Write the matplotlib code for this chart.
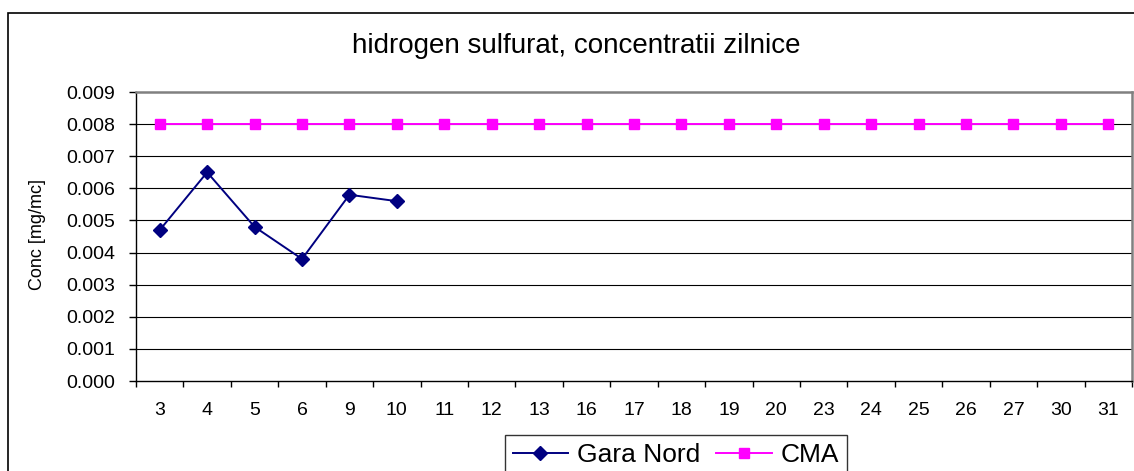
import matplotlib
matplotlib.use("Agg")
import matplotlib.pyplot as plt
from matplotlib.patches import Rectangle
from matplotlib.ticker import FixedLocator, NullFormatter

days = ["3", "4", "5", "6", "9", "10", "11", "12", "13", "16", "17",
        "18", "19", "20", "23", "24", "25", "26", "27", "30", "31"]
gara_nord = [0.0047, 0.0065, 0.0048, 0.0038, 0.0058, 0.0056]
cma = [0.008] * len(days)
y_ticks = [0.000, 0.001, 0.002, 0.003, 0.004, 0.005, 0.006, 0.007, 0.008, 0.009]

W, H = 1134, 471
plt.rcParams['font.family'] = ['Liberation Sans', 'DejaVu Sans']
fig = plt.figure(figsize=(W / 100, H / 100), dpi=100)
fig.patch.set_facecolor('white')

# outer chart frame
fig.patches.append(Rectangle((8 / W, -0.1), 1.2, 1 - 13 / H + 0.1,
                             transform=fig.transFigure, fill=False,
                             edgecolor='black', linewidth=1.2))

ax = fig.add_axes([136 / W, 1 - 381 / H, (1132 - 136) / W, (381 - 92) / H])
x = list(range(len(days)))

for yv in y_ticks[1:-1]:
    ax.axhline(yv, color='black', linewidth=0.8, zorder=1)

ax.plot(x, cma, color='#FF00FF', linewidth=1.4, marker='s', markersize=7.6,
        markerfacecolor='#FF00FF', markeredgecolor='#FF00FF', label='CMA', zorder=3)
ax.plot(x[:len(gara_nord)], gara_nord, color='#000080', linewidth=1.4, marker='D',
        markersize=7.2, markerfacecolor='#000080', markeredgecolor='#000080',
        label='Gara Nord', zorder=4)

ax.set_xlim(-0.5, len(days) - 0.5)
ax.set_ylim(0, 0.009)
ax.set_yticks(y_ticks)
ax.set_yticklabels([f"{v:.3f}" for v in y_ticks])
ax.set_xticks(x)
ax.set_xticklabels(days)
ax.xaxis.set_minor_locator(FixedLocator([i - 0.5 for i in range(len(days) + 1)]))
ax.xaxis.set_minor_formatter(NullFormatter())
ax.tick_params(axis='x', which='major', length=0, pad=15, labelsize=14)
ax.tick_params(axis='x', which='minor', length=4, width=1, color='black', direction='out')
ax.tick_params(axis='y', which='major', length=5, width=1, pad=10, labelsize=14,
               direction='out')

for side in ['top', 'right']:
    ax.spines[side].set_color('#808080')
    ax.spines[side].set_linewidth(1.8)
for side in ['left', 'bottom']:
    ax.spines[side].set_color('black')
    ax.spines[side].set_linewidth(1.0)

fig.text(576 / W, 1 - 52.7 / H, "hidrogen sulfurat, concentratii zilnice",
         ha='center', va='baseline', fontsize=20)
fig.text(38 / W, 1 - 234.5 / H, "Conc [mg/mc]", rotation=90,
         ha='center', va='center', fontsize=13)

handles, labels = ax.get_legend_handles_labels()
order = [labels.index('Gara Nord'), labels.index('CMA')]
leg = fig.legend([handles[i] for i in order], [labels[i] for i in order],
                 loc='upper center', bbox_to_anchor=(676 / W, 1 - 435 / H),
                 ncol=2, fontsize=19, frameon=True, fancybox=False,
                 edgecolor='black', handlelength=2.1, handletextpad=0.35,
                 columnspacing=0.6, borderpad=0.3, borderaxespad=0)
leg.get_frame().set_linewidth(1.0)

fig.savefig("out.png", dpi=100, facecolor='white')
